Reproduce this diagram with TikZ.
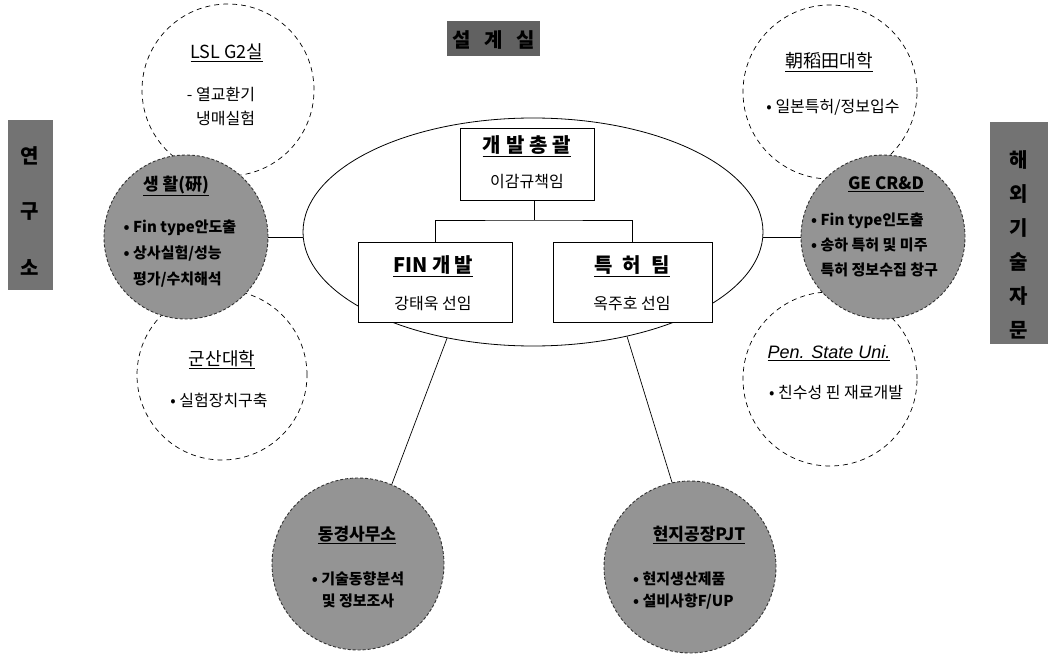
\documentclass[tikz,border=0pt]{standalone}
\usepackage{fontspec}
\setmainfont{Noto Sans CJK KR}
\newfontfamily\latinsans{Liberation Sans}
\usetikzlibrary{shapes.geometric}
\begin{document}
\begin{tikzpicture}[x=1pt,y=-1pt,
  dcirc/.style={circle, draw, line width=0.7pt, dash pattern=on 5pt off 4pt, fill=white, inner sep=0pt},
  gcirc/.style={circle, draw=black!80, line width=0.9pt, dash pattern=on 3pt off 2pt, fill=black!42, inner sep=0pt},
  ttl/.style={font=\fontsize{18}{20}\selectfont, inner sep=1pt},
  gttl/.style={font=\bfseries\fontsize{17}{20}\selectfont, inner sep=1pt},
  body/.style={font=\fontsize{16}{24}\selectfont, inner sep=1pt},
  gbody/.style={font=\bfseries\fontsize{15}{24}\selectfont, inner sep=1pt},
  obox/.style={draw, line width=0.7pt, rectangle, fill=white, inner sep=0pt},
  side/.style={rectangle, fill=black!55, inner sep=0pt},
  sidech/.style={font=\bfseries\fontsize{20}{22}\selectfont, inner sep=0pt}
]
\useasboundingbox (0,0) rectangle (1056,655);

% side labels
\node[side, minimum width=45pt, minimum height=170pt] (lab1) at (30,205) {};
\node[sidech] (lab1a) at (30,156) {연};
\node[sidech] (lab1b) at (30,212) {구};
\node[sidech] (lab1c) at (30,268) {소};

\node[side, minimum width=58pt, minimum height=222pt] (lab2) at (1019,233) {};
\node[sidech] (lab2a) at (1019,160) {해};
\node[sidech] (lab2b) at (1019,194) {외};
\node[sidech] (lab2c) at (1019,228) {기};
\node[sidech] (lab2d) at (1019,262) {술};
\node[sidech] (lab2e) at (1019,296) {자};
\node[sidech] (lab2f) at (1019,330) {문};

\node[side, fill=black!62, minimum width=93pt, minimum height=35pt] (top) at (493,39) {};
\node[sidech] (topa) at (462,40) {설};
\node[sidech] (topb) at (494,40) {계};
\node[sidech] (topc) at (526,40) {실};

% ellipse
\node[ellipse, draw, line width=0.8pt, minimum width=460pt, minimum height=228pt, inner sep=0pt] (e) at (533,232) {};

% dashed white circles
\node[dcirc, minimum size=172pt] (c1) at (228,90) {};
\node[dcirc, minimum size=170pt] (c3) at (222,375) {};
\node[dcirc, minimum size=174pt] (c4) at (830,92) {};
\node[dcirc, minimum size=174pt] (c6) at (830,379) {};

% grey circles
\node[gcirc, minimum size=164pt] (c2) at (186,237) {};
\node[gcirc, minimum size=164pt] (c5) at (883,237) {};
\node[gcirc, minimum size=172pt] (c7) at (358,564) {};
\node[gcirc, minimum size=172pt] (c8) at (690,567) {};

% connectors
\draw[line width=0.7pt] (c2.east) -- (c2.east -| e.west);
\draw[line width=0.7pt] (c5.west) -- (c5.west -| e.east);
\draw[line width=0.7pt] (c7.67) -- (e.231);
\draw[line width=0.7pt] (c8.102) -- (e.312);

% circle texts
\node[ttl] (c1t) at (227,53) {\underline{LSL G2실}};
\node[body, align=right] (c1b) at (221,106) {- 열교환기\\냉매실험};

\node[gttl] (c2t) at (176,186) {\underline{생 활(硏)}};
\node[gbody, align=left, font=\bfseries\fontsize{15}{26}\selectfont] (c2b) at (180,254) {• Fin type안도출\\• 상사실험/성능\\\phantom{• }평가/수치해석};

\node[ttl] (c3t) at (222,360) {\underline{군산대학}};
\node[body] (c3b) at (219,400) {• 실험장치구축};

\node[ttl] (c4t) at (829,62) {\underline{朝稻田대학}};
\node[body] (c4b) at (833,107) {• 일본특허/정보입수};

\node[gttl] (c5t) at (886,184) {\underline{GE CR\&D}};
\node[gbody, anchor=west, align=left, font=\bfseries\fontsize{15}{25}\selectfont] (c5b) at (810,245) {• Fin type인도출\\• 송하 특허 및 미주\\\phantom{• }특허 정보수집 창구};

\node[ttl, font=\latinsans\itshape\fontsize{18}{20}\selectfont] (c6t) at (829,353) {\underline{Pen. State Uni.}};
\node[body] (c6b) at (836,393) {• 친수성 핀 재료개발};

\node[gttl] (c7t) at (357,535) {\underline{동경사무소}};
\node[gbody, align=center, font=\bfseries\fontsize{15}{22}\selectfont] (c7b) at (358,590) {• 기술동향분석\\및 정보조사};

\node[gttl] (c8t) at (699,535) {\underline{현지공장PJT}};
\node[gbody, anchor=west, align=left, font=\bfseries\fontsize{15}{22}\selectfont] (c8b) at (632,591) {• 현지생산제품\\• 설비사항F/UP};

% boxes in ellipse
\node[obox, minimum width=134pt, minimum height=72pt] (b0) at (527,164) {};
\node[obox, minimum width=154pt, minimum height=80pt] (b1) at (435,282) {};
\node[obox, minimum width=159pt, minimum height=80pt] (b2) at (632.5,282) {};
\coordinate (j) at (534,220);
\draw[line width=0.7pt] (b0.south -| j) -- (j);
\draw[line width=0.7pt] (b1.north) |- (j) -| (b2.north);

\node[font=\bfseries\fontsize{20}{22}\selectfont] (b0t) at (527,146) {\underline{개\hspace{0.25em}발\hspace{0.25em}총\hspace{0.25em}괄}};
\node[font=\fontsize{16}{18}\selectfont] (b0b) at (527,182) {이감규책임};
\node[font=\bfseries\fontsize{20}{22}\selectfont] (b1t) at (433,266) {\underline{FIN 개\hspace{0.2em}발}};
\node[font=\fontsize{16}{18}\selectfont] (b1b) at (433,304) {강태욱 선임};
\node[font=\bfseries\fontsize{20}{22}\selectfont] (b2t) at (632,266) {\underline{특\hspace{0.5em}허\hspace{0.5em}팀}};
\node[font=\fontsize{16}{18}\selectfont] (b2b) at (632,304) {옥주호 선임};
\end{tikzpicture}
\end{document}
